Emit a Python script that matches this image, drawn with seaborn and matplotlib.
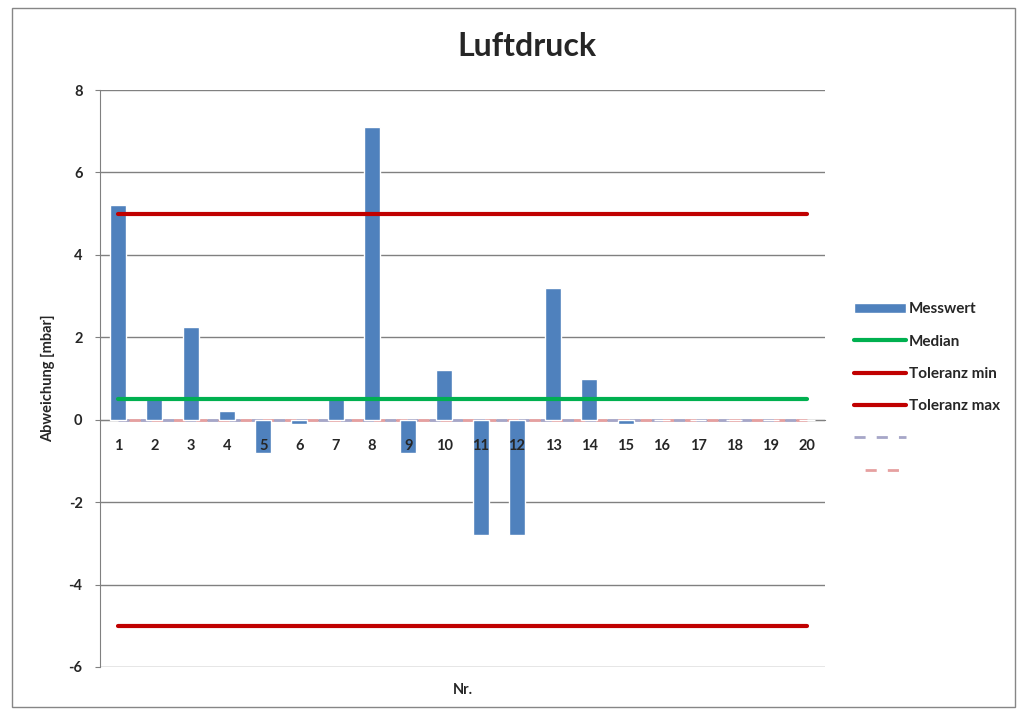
import matplotlib
matplotlib.use("Agg")
import matplotlib.pyplot as plt
import seaborn as sns
import numpy as np
import pandas as pd
from matplotlib.patches import Rectangle

# Daten
nr = [str(i) for i in range(1, 21)]
messwert = [5.2, 0.5, 2.25, 0.2, -0.8, -0.1, 0.5, 7.1, -0.8, 1.2,
            -2.8, -2.8, 3.2, 1.0, -0.1, 0.0, 0.0, 0.0, 0.0, 0.0]
median = [0.5] * 20
tol_min = [-5.0] * 20
tol_max = [5.0] * 20
hilfs_1 = [0.0] * 20
hilfs_2 = [0.0] * 20

df = pd.DataFrame({"Nr.": nr, "Messwert": messwert})

sns.set_style("white")
plt.rcParams["font.family"] = ["Lato", "DejaVu Sans"]
plt.rcParams["font.weight"] = "bold"
plt.rcParams["axes.labelweight"] = "bold"
plt.rcParams["axes.unicode_minus"] = False

fig = plt.figure(figsize=(10.23, 7.15), dpi=100)
ax = fig.add_axes([100 / 1023, 48 / 715, 725 / 1023, 577 / 715])

sns.barplot(data=df, x="Nr.", y="Messwert", color="#4f81bd", width=0.44,
            saturation=1, ax=ax, zorder=3, label="Messwert")

pos = np.arange(len(nr))
ax.plot(pos, median, color="#00b050", lw=3, label="Median", zorder=4)
ax.plot(pos, tol_min, color="#c00000", lw=3, label="Toleranz min", zorder=4)
ax.plot(pos, tol_max, color="#c00000", lw=3, label="Toleranz max", zorder=4)
ax.plot(pos, hilfs_1, color="#a6a6c8", lw=2, ls=(0, (4, 4)), label=" ", zorder=2.7)
ax.plot(pos, hilfs_2, color="#e6a0a0", lw=2, ls=(4, (4, 4)), label="  ", zorder=2.7)

ax.set_xlim(-0.5, 19.5)
ax.set_ylim(-6, 8)
ax.set_yticks(range(-6, 9, 2))
ax.yaxis.grid(True, color="#808080", lw=1)
ax.set_axisbelow(True)
ax.xaxis.set_zorder(5)

for s in ["top", "right"]:
    ax.spines[s].set_visible(False)
ax.spines["left"].set_color("#808080")
ax.spines["bottom"].set_color("#808080")
ax.spines["bottom"].set_position(("data", 0))

ax.tick_params(axis="x", length=0, pad=14, labelsize=10.5)
ax.tick_params(axis="y", length=3.6, color="#808080", left=True, pad=9, labelsize=10.5)

ax.set_xlabel("Nr.", fontsize=10.5)
ax.xaxis.set_label_coords(0.5, -0.027)
ax.set_ylabel("Abweichung [mbar]", fontsize=10.5, labelpad=10)

fig.text(0.515, 0.935, "Luftdruck", ha="center", va="center",
         fontsize=23, fontweight="bold")

handles, labels = ax.get_legend_handles_labels()
order = [labels.index(l) for l in ["Messwert", "Median", "Toleranz min", "Toleranz max", " ", "  "]]
ax.legend([handles[i] for i in order], [labels[i] for i in order],
          loc="center left", bbox_to_anchor=(1.04, 0.48), frameon=False,
          borderpad=0, borderaxespad=0, handlelength=3.4, handletextpad=0.2,
          labelspacing=1.2, prop={"weight": "bold", "size": 11})

fig.patches.append(Rectangle((12 / 1023, 8 / 715), 1003 / 1023, 699 / 715,
                             transform=fig.transFigure, fill=False,
                             edgecolor="#868686", lw=1))

fig.savefig("out.png", dpi=100)
